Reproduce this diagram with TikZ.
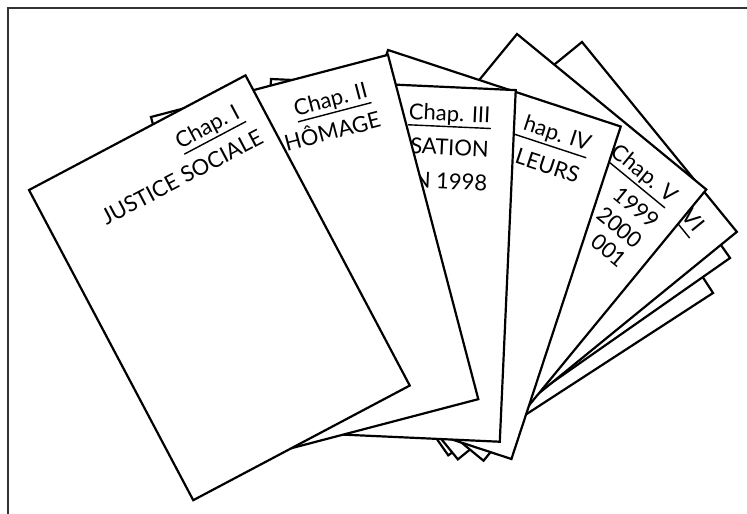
\documentclass[tikz,border=0pt]{standalone}
\usepackage{fontspec}
\setmainfont{Lato}
\tikzset{
  frame/.style={draw=black!80,line width=1.8pt},
  sheet/.style={draw,fill=white,line width=2.2pt,line join=miter},
  label/.style={anchor=base east,inner sep=0pt,font=\fontsize{22}{26}\selectfont},
  uline/.style={line width=1.4pt},
}

\begin{document}
\begin{tikzpicture}[x=1pt,y=-1pt]
\clip (0,0) rectangle (747,514);
\draw[frame] (8,8) rectangle (760,530);

% sheets at the back of the fan
\begin{scope}[shift={(579.6,87.5)},rotate=-57]
  \draw[sheet] (0,0) -- (245,0) -- (245,270) -- (0,270) -- cycle;
\end{scope}
\begin{scope}[shift={(589.5,57.3)},rotate=-55]
  \draw[sheet] (0,0) -- (245,0) -- (245,344) -- (0,344) -- cycle;
\end{scope}

% Chap. VI
\begin{scope}[shift={(582,42)},rotate=-50.8,transform shape]
  \draw[sheet] (0,0) -- (245,0) -- (245,360) -- (0,360) -- cycle;
  \node[label] (c6) at (219,34) {VI};
  \draw[uline] (138,40.5) -- (220,40.5);
\end{scope}

% Chap. V
\begin{scope}[shift={(517,34)},rotate=-39.4,transform shape]
  \draw[sheet] (0,0) -- (245,0) -- (245,351) -- (0,351) -- cycle;
  \node[label] (c5) at (226,34) {Chap. V};
  \draw[uline] (c5.base west) ++(0,6.5) -- ++(77,0);
  \node[label] (y1) at (228,66) {1999};
  \node[label] (y2) at (228,92) {2000};
  \node[label] (y3) at (228,117) {001};
\end{scope}

% Chap. IV
\begin{scope}[shift={(388,50)},rotate=-18.2,transform shape]
  \draw[sheet] (0,0) -- (245,0) -- (245,350) -- (0,350) -- cycle;
  \node[label] (c4) at (222,34) {hap. IV};
  \draw[uline] (140,40.5) -- (222,40.5);
  \node[label] (t4) at (221,68) {LEURS};
\end{scope}

% Chap. III
\begin{scope}[shift={(271,79)},rotate=-2.6,transform shape]
  \draw[sheet] (0,0) -- (245,0) -- (245,352) -- (0,352) -- cycle;
  \node[label] (c3) at (221,34) {Chap. III};
  \draw[uline] (139,39.5) -- (222,39.5);
  \node[label] (t3a) at (221,68) {SATION};
  \node[label] (t3b) at (221,102) {N 1998};
\end{scope}

% Chap. II
\begin{scope}[shift={(151,117)},rotate=14.7,transform shape]
  \draw[sheet] (0,0) -- (245,0) -- (245,356) -- (0,356) -- cycle;
  \node[label] (c2) at (216,36) {Chap. II};
  \draw[uline] (141,42) -- (217,42);
  \node[label] (t2) at (221,68) {HÔMAGE};
\end{scope}

% Chap. I
\begin{scope}[shift={(29,190)},rotate=27.9,transform shape]
  \draw[sheet] (0,0) -- (245,0) -- (245,351) -- (0,351) -- cycle;
  \node[label] (c1) at (222,35) {Chap. I};
  \draw[uline] (154,41) -- (224,41);
  \node[label] (t1) at (231,68) {JUSTICE SOCIALE};
\end{scope}
\end{tikzpicture}
\end{document}
